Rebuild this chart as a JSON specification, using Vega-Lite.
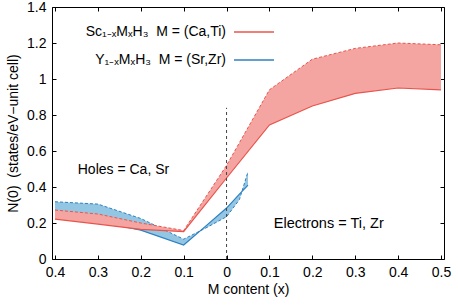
{
  "$schema": "https://vega.github.io/schema/vega-lite/v6.json",
  "width": 392,
  "height": 252,
  "autosize": {"type": "none"},
  "padding": {"left": 52, "top": 7, "right": 14, "bottom": 46},
  "background": "white",
  "config": {
    "font": "Liberation Sans",
    "view": {"stroke": "black", "strokeWidth": 1},
    "axis": {
      "domain": false,
      "grid": false,
      "tickColor": "black",
      "tickSize": -4,
      "labelColor": "black",
      "labelFontSize": 14,
      "labelFont": "Liberation Sans",
      "titleFontSize": 14,
      "titleFont": "Liberation Sans",
      "titleFontWeight": "normal",
      "titleColor": "black"
    }
  },
  "datasets": {
    "bands": [
      {"s": "Y", "x": -0.4, "lo": 0.25, "hi": 0.318},
      {"s": "Y", "x": -0.3, "lo": 0.21, "hi": 0.305},
      {"s": "Y", "x": -0.2, "lo": 0.16, "hi": 0.225},
      {"s": "Y", "x": -0.1, "lo": 0.078, "hi": 0.11},
      {"s": "Y", "x": -0.05, "lo": 0.18, "hi": 0.17},
      {"s": "Y", "x": 0, "lo": 0.283, "hi": 0.235},
      {"s": "Y", "x": 0.03, "lo": 0.36, "hi": 0.33},
      {"s": "Y", "x": 0.05, "lo": 0.41, "hi": 0.485},
      {"s": "Sc", "x": -0.4, "lo": 0.222, "hi": 0.272},
      {"s": "Sc", "x": -0.3, "lo": 0.194, "hi": 0.25},
      {"s": "Sc", "x": -0.2, "lo": 0.165, "hi": 0.2},
      {"s": "Sc", "x": -0.1, "lo": 0.152, "hi": 0.158},
      {"s": "Sc", "x": 0, "lo": 0.45, "hi": 0.52},
      {"s": "Sc", "x": 0.1, "lo": 0.745, "hi": 0.94},
      {"s": "Sc", "x": 0.2, "lo": 0.85, "hi": 1.11},
      {"s": "Sc", "x": 0.3, "lo": 0.92, "hi": 1.17},
      {"s": "Sc", "x": 0.4, "lo": 0.95, "hi": 1.2},
      {"s": "Sc", "x": 0.5, "lo": 0.94, "hi": 1.19}
    ],
    "one": [{}]
  },
  "resolve": {"axis": {"x": "independent", "y": "independent"}},
  "layer": [
    {
      "data": {"name": "bands"},
      "transform": [{"filter": "datum.s == 'Y'"}],
      "mark": {"type": "area", "fill": "#93c6e2", "opacity": 1},
      "encoding": {
        "x": {
          "field": "x", "type": "quantitative",
          "scale": {"domain": [-0.407, 0.507], "nice": false, "zero": false},
          "axis": {
            "orient": "bottom",
            "values": [-0.4, -0.3, -0.2, -0.1, 0, 0.1, 0.2, 0.3, 0.4, 0.5],
            "labelExpr": "format(abs(datum.value), '.1~f')",
            "labelPadding": 10,
            "title": "M content (x)",
            "titlePadding": 3
          }
        },
        "y": {
          "field": "lo", "type": "quantitative",
          "scale": {"domain": [0, 1.4], "nice": false},
          "axis": {
            "orient": "left",
            "values": [0, 0.2, 0.4, 0.6, 0.8, 1, 1.2, 1.4],
            "format": ".1~f",
            "labelPadding": 10,
            "title": "N(0)\u00a0\u00a0(states/eV−unit cell)",
            "titlePadding": 6
          }
        },
        "y2": {"field": "hi"}
      }
    },
    {
      "data": {"name": "bands"},
      "transform": [{"filter": "datum.s == 'Y'"}],
      "mark": {"type": "line", "strokeWidth": 1.2},
      "encoding": {
        "x": {"field": "x", "type": "quantitative", "axis": null},
        "y": {"field": "lo", "type": "quantitative", "axis": null},
        "color": {
          "field": "s", "type": "nominal",
          "scale": {"domain": ["Sc", "Y"], "range": ["#e8544c", "#2f80c0"]},
          "legend": {
            "orient": "none",
            "legendX": 181,
            "legendY": 4,
            "title": null,
            "padding": 0,
            "symbolType": "stroke",
            "symbolSize": 1600,
            "symbolStrokeWidth": 1.5,
            "labelAlign": "right",
            "labelOffset": -49,
            "labelFontSize": 14,
            "labelFont": "Liberation Sans",
            "labelColor": "black",
            "rowPadding": -1,
            "labelLimit": 300,
            "labelExpr": "datum.label == 'Sc' ? 'Sc₁₋ₓMₓH₃\u00a0\u00a0M = (Ca,Ti)' : 'Y₁₋ₓMₓH₃\u00a0\u00a0M = (Sr,Zr)'"
          }
        }
      }
    },
    {
      "data": {"name": "bands"},
      "transform": [{"filter": "datum.s == 'Y'"}],
      "mark": {"type": "line", "stroke": "#2f80c0", "strokeWidth": 1, "strokeDash": [3, 2]},
      "encoding": {
        "x": {"field": "x", "type": "quantitative", "axis": null},
        "y": {"field": "hi", "type": "quantitative", "axis": null}
      }
    },
    {
      "data": {"name": "bands"},
      "transform": [{"filter": "datum.s == 'Sc'"}],
      "mark": {"type": "area", "fill": "#f4a5a1", "opacity": 1},
      "encoding": {
        "x": {"field": "x", "type": "quantitative", "axis": null},
        "y": {"field": "lo", "type": "quantitative", "axis": null},
        "y2": {"field": "hi"}
      }
    },
    {
      "data": {"name": "bands"},
      "transform": [{"filter": "datum.s == 'Sc'"}],
      "mark": {"type": "line", "strokeWidth": 1.2},
      "encoding": {
        "x": {"field": "x", "type": "quantitative", "axis": null},
        "y": {"field": "lo", "type": "quantitative", "axis": null},
        "color": {"field": "s", "type": "nominal"}
      }
    },
    {
      "data": {"name": "bands"},
      "transform": [{"filter": "datum.s == 'Sc'"}],
      "mark": {"type": "line", "stroke": "#e8544c", "strokeWidth": 1, "strokeDash": [3, 2]},
      "encoding": {
        "x": {
          "field": "x", "type": "quantitative",
          "axis": {"orient": "top", "values": [-0.4, -0.3, -0.2, -0.1, 0, 0.1, 0.2, 0.3, 0.4, 0.5], "labels": false, "title": null}
        },
        "y": {
          "field": "hi", "type": "quantitative",
          "axis": {"orient": "right", "values": [0, 0.2, 0.4, 0.6, 0.8, 1, 1.2, 1.4], "labels": false, "title": null}
        }
      }
    },
    {
      "data": {"name": "one"},
      "mark": {"type": "rule", "stroke": "#444444", "strokeWidth": 1, "strokeDash": [3, 3]},
      "encoding": {
        "x": {"datum": 0, "type": "quantitative", "axis": null},
        "y": {"datum": 0, "type": "quantitative", "axis": null},
        "y2": {"datum": 0.84}
      }
    },
    {
      "data": {"name": "one"},
      "mark": {"type": "text", "text": "Holes = Ca, Sr", "align": "left", "baseline": "middle", "fontSize": 14, "font": "Liberation Sans", "color": "black"},
      "encoding": {
        "x": {"datum": -0.347, "type": "quantitative", "axis": null},
        "y": {"datum": 0.494, "type": "quantitative", "axis": null}
      }
    },
    {
      "data": {"name": "one"},
      "mark": {"type": "text", "text": "Electrons = Ti, Zr", "align": "left", "baseline": "middle", "fontSize": 14.5, "font": "Liberation Sans", "color": "black"},
      "encoding": {
        "x": {"datum": 0.11, "type": "quantitative", "axis": null},
        "y": {"datum": 0.194, "type": "quantitative", "axis": null}
      }
    }
  ]
}
